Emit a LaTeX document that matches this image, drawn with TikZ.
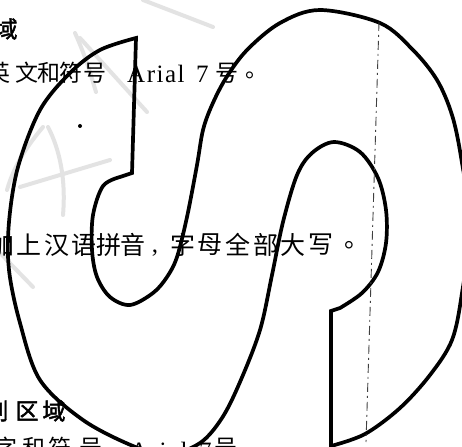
\documentclass[tikz,border=0pt]{standalone}
\usepackage{fontspec}
\setmainfont{Liberation Serif}
\newfontfamily\cjk{Noto Sans CJK SC}
\newfontfamily\cjkb[FakeBold=2]{Noto Sans CJK SC}
\tikzset{
  outline/.style={line width=3.7pt, black},
  wm/.style={line width=4pt, gray!22, line cap=round},
  guide/.style={line width=0.9pt, black!75, dash pattern=on 9pt off 4pt on 2pt off 4pt},
  lthree/.style={inner sep=0pt, font=\cjk\fontsize{25}{25}\selectfont},
  ltwo/.style={inner sep=0pt, font=\cjk\fontsize{23}{23}\selectfont},
  lat/.style={inner sep=0pt, font=\fontsize{25}{25}\selectfont},
  head/.style={inner sep=0pt, font=\cjkb\fontsize{23}{23}\selectfont},
}
\begin{document}
\begin{tikzpicture}[x=1pt,y=-1pt]
\useasboundingbox (0,0) rectangle (462,446);
\clip (0,0) rectangle (462,446);
\fill[white] (0,0) rectangle (462,446);
% faint watermark strokes
\draw[wm] (143,0) -- (213,27);
\draw[wm] (75,33) .. controls (85,55) and (90,72) .. (96,92);
\draw[wm] (80,38) -- (147,112);
\draw[wm] (43,127) .. controls (28,145) and (14,165) .. (7,190);
\draw[wm] (48,127) .. controls (60,150) and (66,180) .. (63,215);
\draw[wm] (20,187) -- (110,160);
\draw[wm] (0,253) -- (33,287);
% S outline
\draw[outline] (136,38) -- (132,173) -- (120,177)
 -- plot[smooth,tension=0.55] coordinates {(120,177) (103,186) (93,215) (92,250) (97,277) (110,297) (130,305) (153,293) (167,277) (177,257) (187,217) (197,165) (203,130) (212,105) (226,78) (247,50) (280,23) (320,10) (380,23) (413,50) (437,80) (452,115) (461,157) (470,225) (462,293) (452,340) (430,375) (400,408) (365,434) (331,446)}
 -- (331,311) -- (340,308)
 -- plot[smooth,tension=0.55] coordinates {(340,308) (362,293) (378,272) (386,243) (386,210) (378,178) (360,152) (334,142) (312,153) (297,175) (283,222) (272,275) (260,330) (240,382) (222,418) (200,443) (167,455) (133,446) (83,420) (40,380) (20,323) (9,270) (9,222) (18,167) (40,110) (70,73) (100,50) (136,38)} -- cycle;
% dashed guide
\coordinate (gtop) at (379,22);
\coordinate (gbot) at (366,442);
\draw[guide] (gtop) -- (gbot);
% small dot
\fill (80,126) circle (2pt);
% line 1
\node[head] (h1) at (6,29) {域};
% line 2
\node[ltwo] (a1) at (-1,73) {英};
\node[ltwo] (a2) at (27,73) {文};
\node[ltwo] (a3) at (49,73) {和};
\node[ltwo] (a4) at (71,73) {符};
\node[ltwo] (a5) at (95,73) {号};
\node[lat, anchor=base west] (a6) at (127,83) {A\kern1.5pt r\kern1.5pt i\kern1.5pt a\kern1.5pt l};
\node[lat, anchor=base west] (a7) at (196,83) {7};
\node[ltwo] (a8) at (227,73) {号};
\node[ltwo] (a9) at (257,75) {。};
% line 3
\foreach \c/\x [count=\i] in {加/2, 上/29, 汉/57, 语/84, 拼/109, 音/133, 字/183, 母/210, 全/238, 部/266, 大/293, 写/321, 。/357}
  \node[lthree] (b\i) at (\x,245) {\c};
\node[lat, anchor=base] (bc) at (155,252) {,};
% line 4
\node[head] (h2) at (-3,411) {别};
\node[head] (h3) at (27,411) {区};
\node[head] (h4) at (54,411) {域};
% line 5 (cut at bottom)
\node[ltwo] (c1) at (6,448) {字};
\node[ltwo] (c2) at (34,448) {和};
\node[ltwo] (c3) at (60,448) {符};
\node[ltwo] (c4) at (91,448) {号};
\node[lat, anchor=base west] (c5) at (130,459) {A\kern1.5pt r\kern1.5pt i\kern1.5pt a\kern1.5pt l};
\node[lat, anchor=base west] (c6) at (199,459) {7};
\node[ltwo] (c7) at (226,448) {号};
\end{tikzpicture}
\end{document}
